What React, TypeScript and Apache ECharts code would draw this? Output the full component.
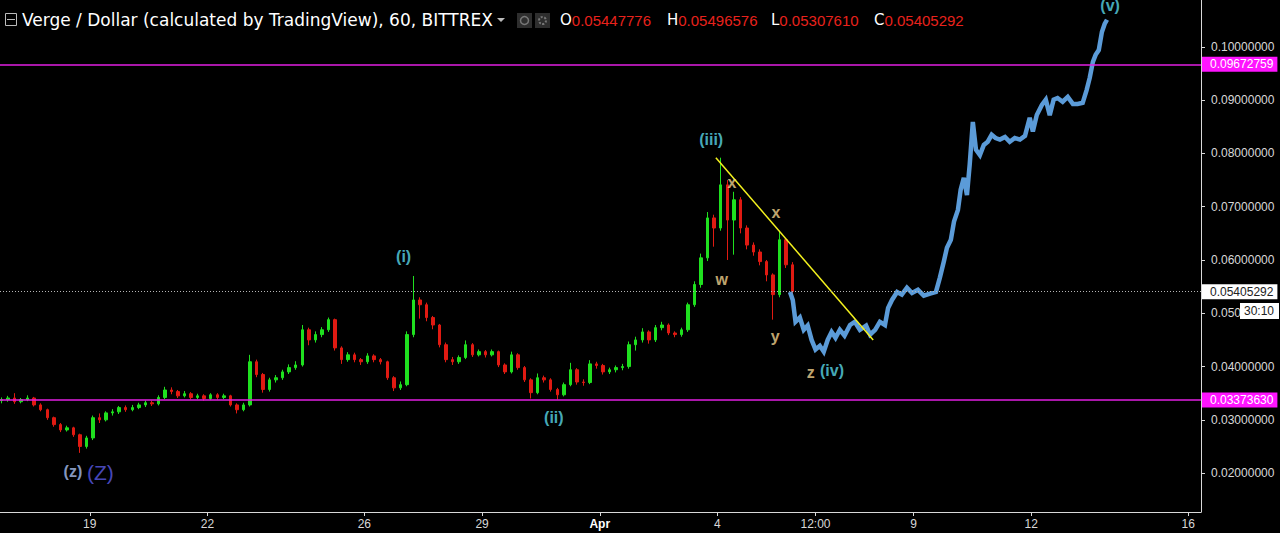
import React, { useEffect, useRef } from "react";
import * as echarts from "echarts";

// x units: day of March (Apr 1 = 32)
const candleStartDay = 16.75; // Mar 16 18:00
const candleStepDays = 1 / 6; // 4-hour candles
// [open, close, low, high]
const candles: number[][] = [
  [0.0336, 0.0338, 0.0331, 0.0342],
  [0.0338, 0.0341, 0.0334, 0.0345],
  [0.0341, 0.0334, 0.0330, 0.0350],
  [0.0334, 0.0338, 0.0331, 0.0341],
  [0.0338, 0.0341, 0.0335, 0.0346],
  [0.0341, 0.0328, 0.0325, 0.0343],
  [0.0328, 0.0319, 0.0316, 0.0331],
  [0.0319, 0.0304, 0.0300, 0.0321],
  [0.0304, 0.0291, 0.0287, 0.0306],
  [0.0291, 0.0281, 0.0277, 0.0294],
  [0.0281, 0.0285, 0.0278, 0.0289],
  [0.0285, 0.0272, 0.0268, 0.0287],
  [0.0272, 0.0250, 0.0238, 0.0274],
  [0.0250, 0.0266, 0.0246, 0.0270],
  [0.0266, 0.0304, 0.0262, 0.0308],
  [0.0304, 0.0300, 0.0294, 0.0312],
  [0.0300, 0.0313, 0.0297, 0.0316],
  [0.0313, 0.0315, 0.0308, 0.0320],
  [0.0315, 0.0323, 0.0311, 0.0326],
  [0.0323, 0.0319, 0.0315, 0.0327],
  [0.0319, 0.0323, 0.0316, 0.0328],
  [0.0323, 0.0328, 0.0320, 0.0332],
  [0.0328, 0.0332, 0.0324, 0.0336],
  [0.0332, 0.0330, 0.0326, 0.0336],
  [0.0330, 0.0342, 0.0327, 0.0346],
  [0.0342, 0.0356, 0.0339, 0.0362],
  [0.0356, 0.0353, 0.0348, 0.0361],
  [0.0353, 0.0345, 0.0341, 0.0356],
  [0.0345, 0.0349, 0.0342, 0.0354],
  [0.0349, 0.0342, 0.0338, 0.0352],
  [0.0342, 0.0345, 0.0339, 0.0349],
  [0.0345, 0.0340, 0.0336, 0.0348],
  [0.0340, 0.0347, 0.0337, 0.0350],
  [0.0347, 0.0342, 0.0338, 0.0350],
  [0.0342, 0.0345, 0.0339, 0.0349],
  [0.0345, 0.0328, 0.0325, 0.0347],
  [0.0328, 0.0319, 0.0312, 0.0331],
  [0.0319, 0.0328, 0.0316, 0.0332],
  [0.0328, 0.0409, 0.0325, 0.0422],
  [0.0409, 0.0385, 0.0380, 0.0413],
  [0.0385, 0.0357, 0.0351, 0.0388],
  [0.0357, 0.0375, 0.0353, 0.0379],
  [0.0375, 0.0379, 0.0370, 0.0384],
  [0.0379, 0.0390, 0.0375, 0.0394],
  [0.0390, 0.0398, 0.0386, 0.0404],
  [0.0398, 0.0403, 0.0394, 0.0410],
  [0.0403, 0.0469, 0.0400, 0.0478],
  [0.0469, 0.0450, 0.0440, 0.0473],
  [0.0450, 0.0460, 0.0445, 0.0466],
  [0.0460, 0.0469, 0.0455, 0.0474],
  [0.0469, 0.0488, 0.0465, 0.0492],
  [0.0488, 0.0435, 0.0430, 0.0490],
  [0.0435, 0.0413, 0.0405, 0.0438],
  [0.0413, 0.0422, 0.0409, 0.0427],
  [0.0422, 0.0413, 0.0408, 0.0426],
  [0.0413, 0.0409, 0.0403, 0.0416],
  [0.0409, 0.0420, 0.0405, 0.0425],
  [0.0420, 0.0413, 0.0408, 0.0423],
  [0.0413, 0.0409, 0.0404, 0.0416],
  [0.0409, 0.0379, 0.0375, 0.0411],
  [0.0379, 0.0360, 0.0354, 0.0382],
  [0.0360, 0.0366, 0.0356, 0.0372],
  [0.0366, 0.0460, 0.0363, 0.0466],
  [0.0460, 0.0525, 0.0455, 0.0570],
  [0.0525, 0.0516, 0.0490, 0.0530],
  [0.0516, 0.0492, 0.0485, 0.0520],
  [0.0492, 0.0478, 0.0470, 0.0495],
  [0.0478, 0.0441, 0.0436, 0.0480],
  [0.0441, 0.0413, 0.0408, 0.0445],
  [0.0413, 0.0409, 0.0403, 0.0418],
  [0.0409, 0.0417, 0.0405, 0.0421],
  [0.0417, 0.0441, 0.0414, 0.0449],
  [0.0441, 0.0422, 0.0418, 0.0444],
  [0.0422, 0.0428, 0.0419, 0.0432],
  [0.0428, 0.0422, 0.0417, 0.0431],
  [0.0422, 0.0428, 0.0419, 0.0432],
  [0.0428, 0.0403, 0.0399, 0.0430],
  [0.0403, 0.0390, 0.0386, 0.0406],
  [0.0390, 0.0422, 0.0387, 0.0428],
  [0.0422, 0.0398, 0.0394, 0.0425],
  [0.0398, 0.0375, 0.0371, 0.0401],
  [0.0375, 0.0351, 0.0340, 0.0378],
  [0.0351, 0.0379, 0.0348, 0.0387],
  [0.0379, 0.0375, 0.0370, 0.0383],
  [0.0375, 0.0357, 0.0353, 0.0378],
  [0.0357, 0.0347, 0.0338, 0.0360],
  [0.0347, 0.0366, 0.0344, 0.0370],
  [0.0366, 0.0394, 0.0363, 0.0407],
  [0.0394, 0.0371, 0.0366, 0.0397],
  [0.0371, 0.0370, 0.0364, 0.0376],
  [0.0370, 0.0405, 0.0367, 0.0412],
  [0.0405, 0.0402, 0.0396, 0.0409],
  [0.0402, 0.0390, 0.0385, 0.0405],
  [0.0390, 0.0394, 0.0386, 0.0398],
  [0.0394, 0.0398, 0.0389, 0.0402],
  [0.0398, 0.0400, 0.0393, 0.0405],
  [0.0400, 0.0441, 0.0396, 0.0447],
  [0.0441, 0.0450, 0.0430, 0.0456],
  [0.0450, 0.0465, 0.0445, 0.0472],
  [0.0465, 0.0450, 0.0443, 0.0468],
  [0.0450, 0.0473, 0.0446, 0.0478],
  [0.0473, 0.0478, 0.0468, 0.0484],
  [0.0478, 0.0463, 0.0459, 0.0481],
  [0.0463, 0.0460, 0.0455, 0.0466],
  [0.0460, 0.0469, 0.0456, 0.0473],
  [0.0469, 0.0516, 0.0465, 0.0520],
  [0.0516, 0.0554, 0.0512, 0.0560],
  [0.0554, 0.0604, 0.0548, 0.0612],
  [0.0604, 0.0679, 0.0598, 0.0690],
  [0.0679, 0.0660, 0.0625, 0.0685],
  [0.0660, 0.0741, 0.0655, 0.0792],
  [0.0741, 0.0675, 0.0600, 0.0750],
  [0.0675, 0.0713, 0.0610, 0.0728],
  [0.0713, 0.0660, 0.0650, 0.0718],
  [0.0660, 0.0628, 0.0620, 0.0665],
  [0.0628, 0.0615, 0.0608, 0.0633],
  [0.0615, 0.0597, 0.0590, 0.0620],
  [0.0597, 0.0572, 0.0560, 0.0600],
  [0.0572, 0.0535, 0.0488, 0.0575],
  [0.0535, 0.0638, 0.0530, 0.0655],
  [0.0638, 0.0591, 0.0585, 0.0606],
  [0.0591, 0.0541, 0.0531, 0.0596],
];

// projected path (blue)
const projDays = [
  36.85, 36.92, 36.99, 37.1, 37.2, 37.3, 37.4, 37.5, 37.61, 37.71, 37.81, 37.91,
  38.01, 38.12, 38.24, 38.38, 38.5, 38.63, 38.79, 38.89, 39.02, 39.14, 39.27,
  39.35, 39.45, 39.58, 39.7, 39.83, 39.96, 40.11, 40.26, 40.42, 40.57, 40.67,
  40.77, 40.85, 40.95, 41.03, 41.13, 41.2, 41.28, 41.36, 41.43, 41.51, 41.59,
  41.69, 41.79, 41.89, 41.99, 42.09, 42.2, 42.33, 42.45, 42.58, 42.71, 42.84,
  42.96, 43.04, 43.14, 43.27, 43.37, 43.47, 43.57, 43.67, 43.8, 43.93, 44.06,
  44.18, 44.31, 44.41, 44.49, 44.57, 44.64, 44.72, 44.8, 44.87, 44.93,
];
const projPrices = [
  0.054, 0.0525, 0.0484, 0.0492, 0.0469, 0.0477, 0.045, 0.0432, 0.0439, 0.0428,
  0.045, 0.0465, 0.0454, 0.0469, 0.0458, 0.0478, 0.0484, 0.0469, 0.0477, 0.046,
  0.0469, 0.0484, 0.0478, 0.051, 0.0525, 0.054, 0.0535, 0.0548, 0.0538, 0.0544,
  0.0533, 0.0537, 0.054, 0.0567, 0.0597, 0.0623, 0.0638, 0.0672, 0.0694, 0.0732,
  0.0754, 0.0722, 0.0779, 0.0859, 0.0807, 0.0797, 0.0816, 0.0822, 0.0835,
  0.0829, 0.0826, 0.0831, 0.0822, 0.0829, 0.0826, 0.0833, 0.0867, 0.0841,
  0.0872, 0.0891, 0.0901, 0.0872, 0.0901, 0.0904, 0.0897, 0.0906, 0.0893,
  0.0893, 0.0895, 0.0919, 0.0942, 0.0972, 0.0985, 0.0994, 0.1028, 0.1043, 0.1051,
];

const trendDays = [34.96, 38.97];
const trendPrices = [0.0792, 0.045];

const magentaLevels = [0.09672759, 0.0337363];
const lastPrice = 0.05405292;

const ohlcKeys = ["O", "H", "L", "C"];
const ohlcValues = ["0.05447776", "0.05496576", "0.05307610", "0.05405292"];

const yTicks = [0.02, 0.03, 0.04, 0.05, 0.06, 0.07, 0.08, 0.09, 0.1];
const xTickDays = [19, 22, 26, 29, 32, 35, 37.5, 40, 43, 47];
const xTickLabels = ["19", "22", "26", "29", "Apr", "4", "12:00", "9", "12", "16"];

const waveTexts = ["(v)", "(iii)", "(i)", "(ii)", "(iv)", "z", "x", "x", "w", "y", "(z)", "(Z)"];
const waveDays = [45.01, 34.84, 27.0, 30.83, 37.92, 37.38, 35.37, 36.49, 35.11, 36.47, 18.57, 19.27];
const wavePrices = [0.1077, 0.0827, 0.0606, 0.0304, 0.0392, 0.0388, 0.0745, 0.0689, 0.0563, 0.0456, 0.0203, 0.0201];
const waveKinds = ["c", "c", "c", "c", "c", "t", "t", "t", "t", "t", "l", "b"];

const kindStyle: Record<string, any> = {
  c: { color: "#5ad8e8", fontWeight: "bold", fontSize: 16 },
  t: { color: "#f2d38e", fontWeight: "bold", fontSize: 16 },
  l: { color: "#a9c0f2", fontWeight: "bold", fontSize: 16 },
  b: { color: "#5b5be8", fontWeight: "normal", fontSize: 21 },
};

const FONT = '"Liberation Sans", Arial, sans-serif';

export default function App() {
  const ref = useRef<HTMLDivElement>(null);
  useEffect(() => {
    if (!ref.current) return;
    const chart = echarts.init(ref.current, undefined, { renderer: "svg" });
    const candleData = candles.map((c, i) => [
      candleStartDay + i * candleStepDays,
      c[0],
      c[1],
      c[2],
      c[3],
    ]);
    const ohlcX = [560, 667, 771, 874];
    const graphics: any[] = [
      { type: "rect", shape: { x: 5.5, y: 13.5, width: 11, height: 12 }, style: { stroke: "#bbb", fill: "none", lineWidth: 1 } },
      { type: "line", shape: { x1: 7, y1: 19.5, x2: 15, y2: 19.5 }, style: { stroke: "#bbb", lineWidth: 1 } },
      {
        type: "text",
        x: 22,
        y: 20,
        style: {
          text: "Verge / Dollar (calculated by TradingView), 60, BITTREX",
          fill: "#ffffff",
          font: '17px "DejaVu Sans", Verdana, sans-serif',
          verticalAlign: "middle",
        },
      },
      { type: "polygon", shape: { points: [[497, 18], [505, 18], [501, 22]] }, style: { fill: "#bbb" } },
      { type: "rect", shape: { x: 517, y: 13, width: 15, height: 15 }, style: { fill: "#2e2e2e" } },
      { type: "circle", shape: { cx: 524.5, cy: 20.5, r: 4 }, style: { stroke: "#777", fill: "none", lineWidth: 1.5 } },
      { type: "rect", shape: { x: 535, y: 13, width: 15, height: 15 }, style: { fill: "#2e2e2e" } },
      { type: "circle", shape: { cx: 542.5, cy: 20.5, r: 3.5 }, style: { stroke: "#777", fill: "none", lineWidth: 2, lineDash: [2, 1.5] } },
      { type: "rect", z: 200, zlevel: 1, shape: { x: 1240, y: 303, width: 39, height: 16 }, style: { fill: "#ffffff" } },
      {
        type: "text",
        z: 201,
        zlevel: 1,
        x: 1259,
        y: 311,
        style: { text: "30:10", fill: "#222", font: "12px " + FONT, align: "center", verticalAlign: "middle" },
      },
    ];
    ohlcKeys.forEach((k, i) => {
      graphics.push({
        type: "text",
        x: ohlcX[i],
        y: 20,
        style: {
          text: `{k|${k}}{v|${ohlcValues[i]}}`,
          verticalAlign: "middle",
          rich: {
            k: { fill: "#ffffff", font: '15px "DejaVu Sans", Verdana, sans-serif' },
            v: { fill: "#e8221c", font: "15px " + FONT },
          },
        },
      });
    });

    const levelLabel = (v: number, bg: string, fg: string) => ({
      show: true,
      position: "end",
      distance: 1,
      formatter: v.toFixed(8),
      color: fg,
      backgroundColor: bg,
      padding: [2, 4, 1, 8],
      fontSize: 12,
      fontFamily: FONT,
    });

    const option: any = {
      animation: false,
      backgroundColor: "#000000",
      grid: { left: 0, right: 79, top: 0, bottom: 21, containLabel: false, outerBoundsMode: "none" },
      xAxis: {
        type: "value",
        min: 16.712,
        max: 47.326,
        axisLine: { show: true, onZero: false, lineStyle: { color: "#d8d8d8", width: 1 } },
        axisTick: { show: true, length: 4, customValues: xTickDays, lineStyle: { color: "#d8d8d8" } },
        splitLine: { show: false },
        axisLabel: {
          customValues: xTickDays,
          color: "#d8d8d8",
          fontSize: 12,
          fontFamily: FONT,
          margin: 6,
          formatter: (v: number) => {
            const idx = xTickDays.findIndex((d) => Math.abs(d - v) < 1e-6);
            const t = idx >= 0 ? xTickLabels[idx] : "";
            return t === "Apr" ? "{b|Apr}" : t;
          },
          rich: { b: { fontWeight: "bold", color: "#ffffff", fontSize: 12, fontFamily: FONT } },
        },
      },
      yAxis: {
        type: "value",
        position: "right",
        min: 0.0127,
        max: 0.1088,
        axisLine: { show: true, onZero: false, lineStyle: { color: "#d8d8d8", width: 1 } },
        axisTick: { show: true, length: 4, customValues: yTicks, lineStyle: { color: "#d8d8d8" } },
        splitLine: { show: false },
        axisLabel: {
          customValues: yTicks,
          color: "#d8d8d8",
          fontSize: 12,
          fontFamily: FONT,
          margin: 10,
          formatter: (v: number) => v.toFixed(8),
        },
      },
      graphic: graphics,
      series: [
        {
          type: "candlestick",
          data: candleData,
          encode: { x: 0, y: [1, 2, 3, 4] },
          barWidth: 3,
          itemStyle: {
            color: "#1fe01f",
            color0: "#e01a12",
            borderColor: "#1fe01f",
            borderColor0: "#e01a12",
            borderWidth: 1,
          },
          markLine: {
            silent: true,
            symbol: "none",
            precision: 10,
            animation: false,
            data: [
              ...magentaLevels.map((v) => ({
                yAxis: v,
                lineStyle: { color: "#e21fe2", width: 1.5, type: "solid" },
                label: levelLabel(v, "#ff14ff", "#ffffff"),
              })),
              {
                yAxis: lastPrice,
                lineStyle: { color: "#b5b5b5", width: 1, type: [1, 2] },
                label: levelLabel(lastPrice, "#ffffff", "#222222"),
              },
            ],
          },
        },
        {
          type: "line",
          data: projDays.map((d, i) => [d, projPrices[i]]),
          symbol: "none",
          lineStyle: { color: "#5b9bd8", width: 4.5, join: "miter" },
          z: 3,
        },
        {
          type: "line",
          data: trendDays.map((d, i) => [d, trendPrices[i]]),
          symbol: "none",
          lineStyle: { color: "#f4f21e", width: 1.5 },
          z: 4,
        },
        {
          type: "scatter",
          symbolSize: 1,
          itemStyle: { color: "rgba(0,0,0,0)" },
          z: 5,
          data: waveTexts.map((t, i) => ({
            value: [waveDays[i], wavePrices[i]],
            name: t,
            label: {
              show: true,
              position: "inside",
              formatter: t,
              fontFamily: FONT,
              ...kindStyle[waveKinds[i]],
            },
          })),
        },
      ],
    };
    chart.setOption(option);
    return () => chart.dispose();
  }, []);
  return (
    <div
      ref={ref}
      style={{ position: "fixed", left: 0, top: 0, width: 1280, height: 533, background: "#000" }}
    />
  );
}
